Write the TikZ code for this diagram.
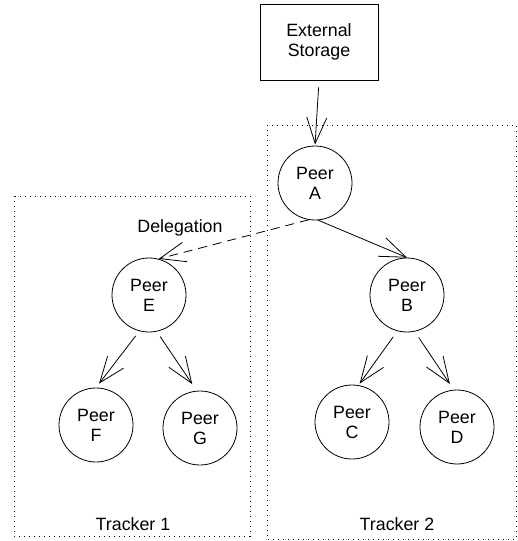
\documentclass[tikz,border=0pt]{standalone}
\usepackage{fontspec}
\setmainfont{Liberation Sans}
\usetikzlibrary{arrows.meta}
\begin{document}
\begin{tikzpicture}[x=1pt,y=-1pt,
  every node/.style={font=\fontsize{17.8}{20}\selectfont},
  peer/.style={draw,circle,line width=0.8pt,minimum size=74pt,inner sep=0pt,align=center},
  store/.style={draw,rectangle,line width=0.8pt,minimum width=118pt,minimum height=76pt,inner sep=0pt,align=center},
  tracker/.style={line width=1pt,dash pattern=on 1.3pt off 3.7pt},
  link/.style={line width=0.8pt,-{Straight Barb[length=26pt,width=20pt,line width=0.8pt]}},
  deleg/.style={link,dash pattern=on 9pt off 6pt}
]
\useasboundingbox (0,0) rectangle (518,541);

% tracker regions
\draw[tracker] (14,196) rectangle (250,536);
\draw[tracker] (267,125) rectangle (516,539);
\node (t1) at (133,524) {Tracker 1};
\node (t2) at (397,524) {Tracker 2};

% storage and peers
\node[store] (ext) at (319,42) {External\\Storage};
\node[peer] (A) at (315,183) {Peer\\A};
\node[peer] (E) at (149,295) {Peer\\E};
\node[peer] (B) at (407,295) {Peer\\B};
\node[peer] (F) at (96,425) {Peer\\F};
\node[peer] (G) at (200,428) {Peer\\G};
\node[peer] (C) at (352,422) {Peer\\C};
\node[peer] (D) at (457,427) {Peer\\D};

\node (dl) at (180,228) {Delegation};

% connectors
\draw[link,shorten <=7pt,shorten >=1pt] (ext.south) -- (A.north);
\draw[link] (A.-85) -- (B.90);
\draw[deleg] (A.-100) -- (E.75);
\draw[link,shorten <=6pt,shorten >=5pt] (E.-105) -- (F.90);
\draw[link,shorten <=6pt,shorten >=8pt] (E.-78) -- (G.95);
\draw[link,shorten <=7pt,shorten >=2pt] (B.-105) -- (C.80);
\draw[link,shorten <=7pt,shorten >=7pt] (B.-78) -- (D.95);
\end{tikzpicture}
\end{document}
